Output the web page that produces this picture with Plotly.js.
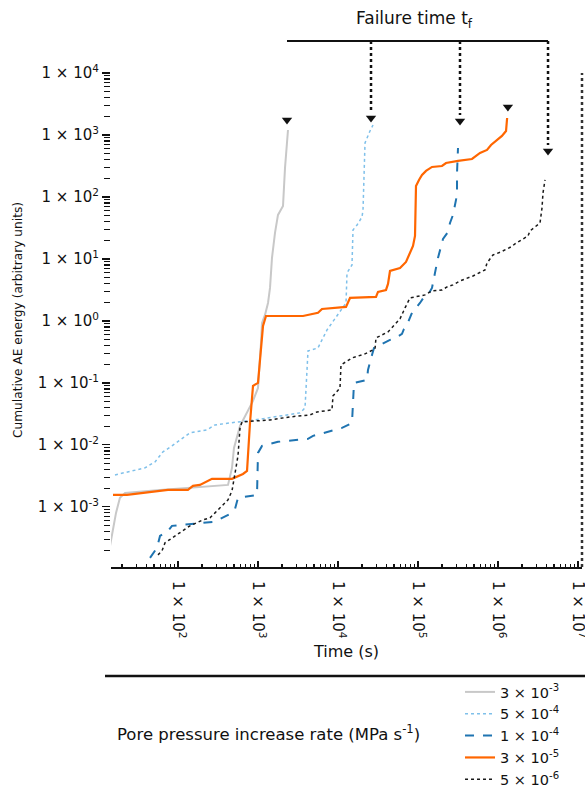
<!DOCTYPE html>
<html>
<head>
<meta charset="utf-8">
<script src="https://cdn.plot.ly/plotly-3.0.1.min.js"></script>
<style>html,body{margin:0;padding:0;background:#fff;}#chart{width:585px;height:789px;}</style>
</head>
<body>
<div id="chart"></div>
<script>
// ---- data (time in s, cumulative AE energy in arbitrary units) ----
const RATE_LABELS = ["3 × 10<sup>-3</sup>", "5 × 10<sup>-4</sup>", "1 × 10<sup>-4</sup>", "3 × 10<sup>-5</sup>", "5 × 10<sup>-6</sup>"];

const T_GREY = [14, 16.8, 18.8, 21.8, 59.6, 422, 473, 501, 596, 708, 866, 1000, 1059, 1090, 1122, 1223, 1334, 1413, 1496, 1631, 1778, 2054, 2176, 2371];
const E_GREY = [2.2e-4, 8.0e-4, 1.4e-3, 1.68e-3, 1.88e-3, 2.26e-3, 4.26e-3, 8.95e-3, 0.0202, 0.0305, 0.0513, 0.083, 0.21, 0.442, 0.929, 1.25, 1.95, 3.41, 10.4, 26.3, 51.3, 71.6, 294, 1205];

const T_LBLUE = [16.3, 26.6, 38.7, 51.6, 64.9, 84.1, 112, 141, 230, 290, 447, 917, 3350, 3870, 4217, 5623, 6310, 7290, 12600, 12960, 14960, 15400, 17300, 19950, 20540, 21760, 25100, 27400];
const E_LBLUE = [3.28e-3, 3.81e-3, 4.26e-3, 5.32e-3, 7.71e-3, 9.64e-3, 0.0125, 0.0156, 0.0175, 0.021, 0.0226, 0.0253, 0.0328, 0.0395, 0.328, 0.367, 0.494, 0.716, 1.95, 5.94, 8.0, 29.4, 35.3, 47.6, 61.7, 743, 1160, 1450];

const T_DBLUE = [44.7, 54.6, 59.6, 75, 84.1, 154, 274, 335, 447, 516, 547, 562, 972, 1000, 1122, 1778, 4217, 4870, 5960, 8410, 11220, 14960, 15850, 23040, 23710, 26600, 28180, 44670, 54640, 63100, 66800, 72900, 79400, 84100, 105900, 118900, 133400, 149600, 177800, 193900, 205400, 237100, 251200, 273800, 290000, 307300, 307300, 316200];
const E_DBLUE = [1.5e-4, 2.18e-4, 3.4e-4, 4.1e-4, 4.94e-4, 5.32e-4, 5.73e-4, 6.4e-4, 7.71e-4, 9.29e-4, 1.16e-3, 1.4e-3, 1.56e-3, 7.43e-3, 9.64e-3, 0.0112, 0.0125, 0.014, 0.015, 0.0168, 0.0188, 0.0226, 0.1, 0.112, 0.162, 0.283, 0.367, 0.494, 0.552, 0.617, 0.743, 0.862, 1.12, 1.35, 1.95, 2.44, 2.63, 3.41, 10.4, 16.2, 21.0, 27.3, 38.1, 51.3, 80, 108, 244, 617];

const T_ORANGE = [15.4, 23.0, 75, 133, 154, 188, 266, 473, 649, 729, 794, 841, 866, 1000, 1155, 1259, 3651, 5623, 6310, 12590, 13340, 14130, 29850, 31620, 39810, 42170, 44670, 59570, 70790, 79430, 86600, 91750, 94400, 102900, 112200, 125900, 149600, 199500, 223900, 316200, 473000, 596000, 729000, 818000, 944000, 1.12e6, 1.26e6, 1.30e6];
const E_ORANGE = [1.56e-3, 1.56e-3, 1.88e-3, 1.88e-3, 2.18e-3, 2.26e-3, 2.83e-3, 2.83e-3, 3.4e-3, 3.81e-3, 0.0226, 0.0513, 0.0895, 0.1, 0.83, 1.2, 1.2, 1.35, 1.56, 1.68, 1.95, 2.35, 2.44, 2.94, 3.16, 3.95, 6.4, 7.16, 8.95, 12.5, 16.2, 23.5, 150, 188, 226, 263, 305, 316, 353, 381, 410, 513, 573, 690, 800, 964, 1160, 1880];

const T_BLACK = [56.2, 63.1, 68.8, 112, 141, 205, 251, 290, 422, 473, 516, 547, 562, 596, 631, 1413, 2512, 4467, 5464, 8410, 8660, 10590, 10900, 14960, 21760, 29000, 29850, 42170, 59570, 68800, 79400, 122400, 149600, 199500, 230400, 273800, 335000, 487000, 688000, 729000, 866000, 1.09e6, 1.22e6, 1.45e6, 1.63e6, 2.37e6, 2.51e6, 2.82e6, 3.35e6, 3.55e6, 3.65e6, 3.87e6];
const E_BLACK = [1.68e-4, 1.95e-4, 2.63e-4, 4.1e-4, 4.94e-4, 6.17e-4, 6.65e-4, 8e-4, 1.3e-3, 1.81e-3, 3.53e-3, 4.75e-3, 6.65e-3, 0.0188, 0.0235, 0.0253, 0.0283, 0.0305, 0.034, 0.0367, 0.0617, 0.083, 0.195, 0.253, 0.294, 0.353, 0.532, 0.665, 1.08, 1.62, 2.35, 2.63, 3.05, 3.16, 3.53, 3.81, 4.42, 5.32, 6.65, 8.62, 11.6, 13.0, 14.0, 15.6, 17.5, 23.5, 28.3, 31.6, 38.1, 66.5, 116, 188];

// failure points: grey, light blue, dark blue, orange, black
const T_FAIL = [2304, 25860, 335000, 1.33e6, 4.22e6];
const E_FAIL = [1746, 1880, 1682, 2830, 552];
const ARROWED = [1, 2, 4];

const X_TICKS = [1e2, 1e3, 1e4, 1e5, 1e6, 1e7];
const X_TICKTEXT = ["1 × 10<sup>2</sup>", "1 × 10<sup>3</sup>", "1 × 10<sup>4</sup>", "1 × 10<sup>5</sup>", "1 × 10<sup>6</sup>", "1 × 10<sup>7</sup>"];
const Y_TICKS = [1e-3, 1e-2, 1e-1, 1e0, 1e1, 1e2, 1e3, 1e4];
const Y_TICKTEXT = ["1 × 10<sup>-3</sup>", "1 × 10<sup>-2</sup>", "1 × 10<sup>-1</sup>", "1 × 10<sup>0</sup>", "1 × 10<sup>1</sup>", "1 × 10<sup>2</sup>", "1 × 10<sup>3</sup>", "1 × 10<sup>4</sup>"];

const X_RANGE = [1.1625, 7.05];
const Y_RANGE = [-3.97, 4.0];

function minorVals(lo, hi) {
  const out = [];
  for (let e = Math.floor(lo); e <= Math.ceil(hi); e++)
    for (let m = 2; m <= 9; m++) out.push(m * Math.pow(10, e));
  return out;
}

const FONT = "DejaVu Sans, sans-serif";
const COLORS = ["#c8c8c8", "#7fc0ea", "#1f74b1", "#ff6600", "#1a1a1a"];
const DASHES = ["solid", "dot", "dash", "solid", "dot"];
const WIDTHS = [2, 1.5, 2, 2.2, 1.5];
const TS = [T_GREY, T_LBLUE, T_DBLUE, T_ORANGE, T_BLACK];
const ES = [E_GREY, E_LBLUE, E_DBLUE, E_ORANGE, E_BLACK];

const traces = TS.map((t, i) => ({
  x: t, y: ES[i], type: "scatter", mode: "lines",
  name: RATE_LABELS[i],
  line: {color: COLORS[i], width: WIDTHS[i], dash: DASHES[i]},
  cliponaxis: true
}));
traces.push({
  x: T_FAIL, y: E_FAIL, type: "scatter", mode: "markers", showlegend: false,
  marker: {symbol: "triangle-down", size: 9, color: "#111"}, cliponaxis: false
});

function xPaper(v) { return (Math.log10(v) - X_RANGE[0]) / (X_RANGE[1] - X_RANGE[0]); }
function yPaper(v) { return (Math.log10(v) - Y_RANGE[0]) / (Y_RANGE[1] - Y_RANGE[0]); }
const BRACKET_Y = 1.0648;

const shapes = [
  {type: "line", xref: "paper", yref: "paper", x0: xPaper(T_FAIL[0]), x1: xPaper(T_FAIL[4]), y0: BRACKET_Y, y1: BRACKET_Y, line: {color: "#111", width: 2}},
  {type: "line", xref: "paper", yref: "paper", x0: -0.0127, x1: 1.0064, y0: -0.2206, y1: -0.2206, line: {color: "#111", width: 2.5}},
  {type: "line", xref: "paper", yref: "paper", x0: 1, x1: 1, y0: 0, y1: 1, line: {color: "#333", width: 2.5, dash: "dot"}}
];
ARROWED.forEach(i => shapes.push({
  type: "line", xref: "paper", yref: "paper",
  x0: xPaper(T_FAIL[i]), x1: xPaper(T_FAIL[i]), y0: BRACKET_Y, y1: yPaper(E_FAIL[i]) + 0.012,
  line: {color: "#111", width: 2.5, dash: "dot"}
}));

const layout = {
  width: 585, height: 789,
  margin: {l: 111, r: 3, t: 73, b: 222, autoexpand: false},
  paper_bgcolor: "#fff", plot_bgcolor: "#fff",
  font: {family: FONT, size: 13, color: "#111"},
  showlegend: true,
  legend: {x: 0.741, xanchor: "left", y: -0.2206, yanchor: "top", font: {family: FONT, size: 14.5, color: "#111"}, bgcolor: "rgba(0,0,0,0)", tracegroupgap: 0},
  xaxis: {
    type: "log", range: X_RANGE, tickmode: "array", tickvals: X_TICKS, ticktext: X_TICKTEXT, automargin: false,
    tickangle: 90, ticks: "inside", ticklen: 6, tickcolor: "#111", tickwidth: 1.2, ticklabelstandoff: 9,
    ticklabeloverflow: "allow",
    minor: {tickmode: "array", tickvals: minorVals(1, 7), ticks: "inside", ticklen: 3, tickcolor: "#111"},
    showline: true, linecolor: "#111", linewidth: 2, showgrid: false, zeroline: false,
    tickfont: {family: FONT, size: 15, color: "#111"},
    title: {text: "Time (s)", font: {family: FONT, size: 16, color: "#111"}, standoff: 8}
  },
  yaxis: {
    type: "log", range: Y_RANGE, tickmode: "array", tickvals: Y_TICKS, ticktext: Y_TICKTEXT, automargin: false,
    ticks: "outside", ticklen: 8, tickcolor: "#111", tickwidth: 1.2,
    minor: {tickmode: "array", tickvals: minorVals(-4, 4), ticks: "outside", ticklen: 6, tickcolor: "#111"},
    showline: false, showgrid: false, zeroline: false,
    tickfont: {family: FONT, size: 15, color: "#111"},
    title: {text: "Cumulative AE energy (arbitrary units)", font: {family: FONT, size: 12.2, color: "#111"}, standoff: 12}
  },
  shapes: shapes,
  annotations: [
    {xref: "paper", yref: "paper", x: 0.645, y: 1.109, xanchor: "center", yanchor: "middle", showarrow: false,
     text: "Failure time t<sub>f</sub>", font: {family: FONT, size: 17, color: "#111"}},
    {xref: "paper", yref: "paper", x: 0.0085, y: -0.336, xanchor: "left", yanchor: "middle", showarrow: false,
     text: "Pore pressure increase rate (MPa s<sup>-1</sup>)", font: {family: FONT, size: 16.5, color: "#111"}}
  ]
};

Plotly.newPlot("chart", traces, layout, {displayModeBar: false, staticPlot: true});
</script>
</body>
</html>
